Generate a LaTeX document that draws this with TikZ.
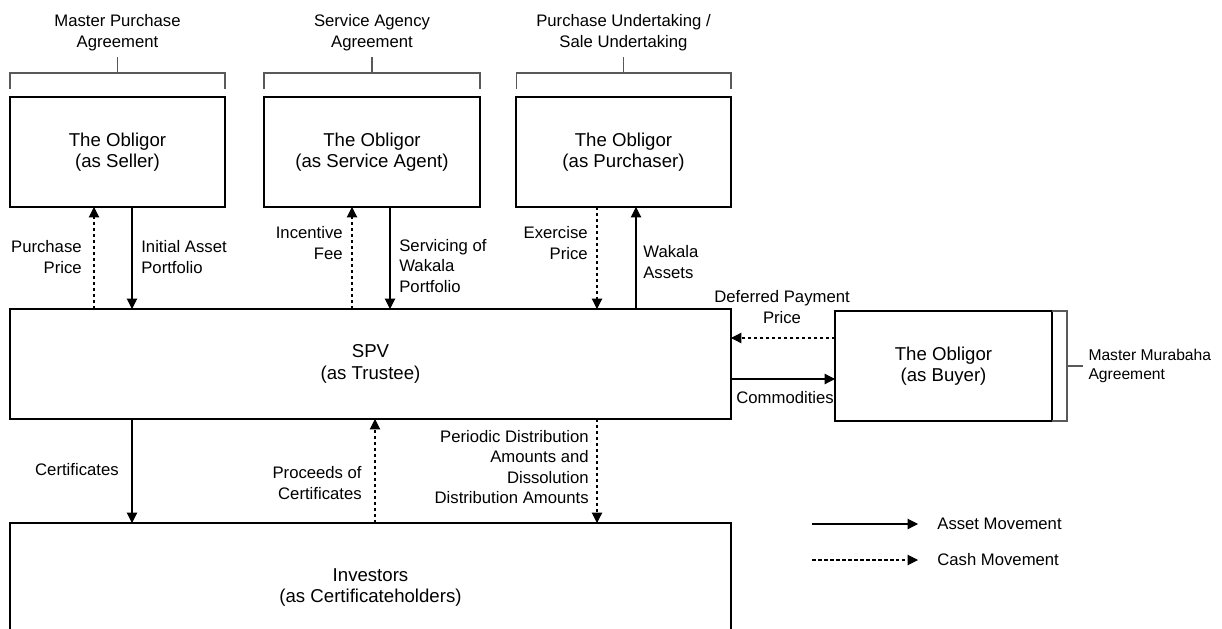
\documentclass[tikz,border=0pt]{standalone}
\usepackage{fontspec}
\setmainfont{Liberation Sans}
\usetikzlibrary{arrows.meta,calc,positioning}
\tikzset{
  party/.style={draw,line width=1.1pt,align=center,inner sep=0pt,outer sep=0pt,
                minimum width=4.3cm,minimum height=2.2cm,
                font=\fontsize{10.6}{12.3}\selectfont},
  lbl/.style={inner sep=0pt,font=\fontsize{9.5}{11.6}\selectfont},
  asset/.style={-{Triangle[length=2.1mm,width=2.1mm]},line width=.6pt},
  cash/.style={asset,dash pattern=on .7mm off .5mm},
  bracket/.style={draw=black!65,line width=.6pt}
}

\begin{document}
\begin{tikzpicture}[x=0.02cm,y=-0.02cm]
  \useasboundingbox (0,0) rectangle (1222,628);
  \clip (0,0) rectangle (1222,628);

  % Obligor roles along the top, each under its agreement.
  \node[party] (seller) at (117.5,152) {The Obligor\\(as Seller)};
  \node[party,minimum width=4.32cm] (agent) at (372,152) {The Obligor\\(as Service Agent)};
  \node[party] (purchaser) at (623.5,152) {The Obligor\\(as Purchaser)};
  \foreach \b/\t in {seller/{Master Purchase\\Agreement},
      agent/{Service Agency\\Agreement},
      purchaser/{Purchase Undertaking /\\Sale Undertaking}} {
    \draw[bracket] ([yshift=.16cm]\b.north west) |- ([yshift=.48cm]\b.north)
      -| ([yshift=.16cm]\b.north east);
    \draw[bracket] ([yshift=.48cm]\b.north) -- ([yshift=.8cm]\b.north);
    \node[lbl,align=center] (\b-agr) at ([yshift=1.29cm]\b.north) {\t};
  }

  \node[party,minimum width=14.42cm] (spv) at (370.5,364) {SPV\\(as Trustee)};
  \node[party,minimum width=4.34cm] (buyer) at (943.5,366) {The Obligor\\(as Buyer)};
  \node[party,minimum width=14.42cm,minimum height=2.58cm] (investors) at (370.5,587.5)
    {Investors\\(as Certificateholders)};

  % Top flows
  \draw[cash] (94,0 |- spv.north) -- (94,0 |- seller.south);
  \draw[asset] (132,0 |- seller.south) -- (132,0 |- spv.north);
  \node[lbl,align=right,anchor=east] (pprice) at (82,257) {Purchase\\Price};
  \node[lbl,align=left,anchor=west] (initial) at (141,257) {Initial Asset\\Portfolio};

  \draw[cash] (352,0 |- spv.north) -- (352,0 |- agent.south);
  \draw[asset] (390,0 |- agent.south) -- (390,0 |- spv.north);
  \node[lbl,align=right,anchor=east] (fee) at (343,243) {Incentive\\Fee};
  \node[lbl,align=left,anchor=west] (servicing) at (399,266) {Servicing of\\Wakala\\Portfolio};

  \draw[cash] (597,0 |- purchaser.south) -- (597,0 |- spv.north);
  \draw[asset] (636,0 |- spv.north) -- (636,0 |- purchaser.south);
  \node[lbl,align=right,anchor=east] (exercise) at (588,243) {Exercise\\Price};
  \node[lbl,align=left,anchor=west] (wakala) at (643,262) {Wakala\\Assets};

  % Murabaha side
  \draw[cash] (buyer.west |- 0,338) -- (spv.east |- 0,338);
  \draw[asset] (spv.east |- 0,379) -- (buyer.west |- 0,379);
  \node[lbl,align=center] (deferred) at (782,307) {Deferred Payment\\Price};
  \node[lbl,anchor=west] (commod) at (736,398) {Commodities};
  \draw[bracket] (buyer.north east) -- ++(15,0) |- (buyer.south east);
  \draw[bracket] ([xshift=.3cm]buyer.east) -- ++(16,0)
    node[lbl,align=left,right=.1cm,font=\fontsize{8.9}{11.2}\selectfont] (murabaha)
    {Master Murabaha\\Agreement};

  % Investor flows
  \draw[asset] (132,0 |- spv.south) -- (132,0 |- investors.north);
  \draw[cash] (375,0 |- investors.north) -- (375,0 |- spv.south);
  \draw[cash] (597,0 |- spv.south) -- (597,0 |- investors.north);
  \node[lbl,anchor=east] (certs) at (119,470) {Certificates};
  \node[lbl,align=right,anchor=east] (proceeds) at (362,483) {Proceeds of\\Certificates};
  \node[lbl,align=right,anchor=east] (periodic) at (589,467)
    {Periodic Distribution\\Amounts and\\Dissolution\\Distribution Amounts};

  % Legend
  \coordinate (la) at (812,524);
  \coordinate (lb) at (918,524);
  \coordinate (lc) at (812,560);
  \coordinate (ld) at (918,560);
  \draw[asset] (la) -- (lb);
  \draw[cash] (lc) -- (ld);
  \node[lbl,anchor=west] (leg-asset) at (937,524) {Asset Movement};
  \node[lbl,anchor=west] (leg-cash) at (937,560) {Cash Movement};
\end{tikzpicture}
\end{document}
